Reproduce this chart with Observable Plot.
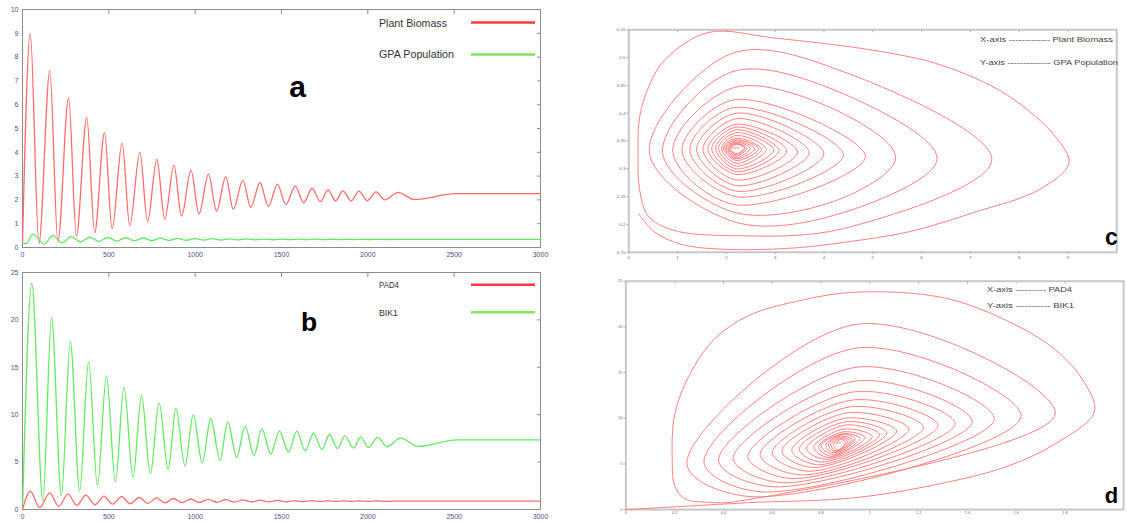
<!DOCTYPE html>
<html><head><meta charset="utf-8">
<script src="https://cdn.jsdelivr.net/npm/d3@7"></script>
<script src="https://cdn.jsdelivr.net/npm/@observablehq/plot@0.6"></script>
<style>
body{margin:0;background:#fff;overflow:hidden;}
#root{position:relative;width:1127px;height:522px;overflow:hidden;background:#fff;}
.p{position:absolute;}
#overlay{position:absolute;left:0;top:0;}
</style></head><body><div id="root"></div>
<script>
// ---------- Panel a: time series ----------
const timeTicks = [0, 500, 1000, 1500, 2000, 2500, 3000];
const aYTicks = [0,1,2,3,4,5,6,7,8,9,10];
const plantT = [0,45,95,158,205,267,312,372,418,475,519,577,621,680,724,778,824,877,921,976,1022,1077,1124,1177,1221,1276,1322,1375,1424,1476,1525,1580,1629,1677,1726,1770,1813,1855,1904,1948,1997,2047,2099,2175,2268,2510,3000];
const plantV = [0.2,9.0,0.17,7.42,0.24,6.3,0.49,5.46,0.63,4.83,0.78,4.4,0.92,4.0,1.08,3.7,1.18,3.46,1.32,3.24,1.41,3.08,1.53,2.97,1.6,2.82,1.68,2.72,1.72,2.66,1.81,2.58,1.88,2.49,1.93,2.42,1.96,2.38,1.96,2.37,1.97,2.34,2.0,2.32,2.02,2.26,2.26];
const gpaT = [0,20,60,125,176,230,283,336,389,442,495,546,598,648,699,750,800,849,898,948,999,1049,1099,1150,1202,1250,1299,1349,1399,1450,1502,1545,1600,1645,1695,1742,1788,1830,1872,1920,1965,2012,2062,2115,2200,3000];
const gpaV = [0.2,0.16,0.56,0.15,0.5,0.2,0.46,0.23,0.44,0.25,0.42,0.27,0.41,0.28,0.40,0.29,0.39,0.30,0.38,0.305,0.375,0.31,0.37,0.315,0.365,0.32,0.36,0.32,0.355,0.325,0.352,0.327,0.35,0.33,0.348,0.332,0.346,0.334,0.345,0.335,0.344,0.336,0.343,0.337,0.34,0.34];

// ---------- Panel b: time series ----------
const bYTicks = [0,5,10,15,20,25];
const pad4T = [0,45,100,157,210,263,315,366,420,472,522,573,625,675,726,776,826,873,924,974,1025,1076,1127,1177,1227,1276,1326,1376,1427,1477,1528,1579,1628,1675,1722,1770,1815,1860,1905,1950,2000,2050,2110,2180,2290,3000];
const pad4V = [0,1.93,0.2,1.76,0.33,1.62,0.43,1.51,0.5,1.42,0.56,1.35,0.61,1.28,0.65,1.22,0.69,1.16,0.72,1.11,0.74,1.07,0.76,1.04,0.78,1.01,0.8,0.98,0.81,0.96,0.82,0.94,0.83,0.93,0.84,0.92,0.85,0.91,0.855,0.9,0.86,0.9,0.865,0.89,0.88,0.88];
const bik1T = [0,54,118,168,225,277,331,383,434,486,538,588,640,689,741,791,844,888,941,989,1041,1090,1144,1188,1241,1289,1341,1386,1438,1488,1540,1589,1637,1686,1734,1778,1825,1866,1918,1957,2005,2057,2112,2189,2292,2518,3000];
const bik1V = [0,23.84,0.88,20.3,1.44,17.7,1.95,15.6,2.5,14.1,2.95,12.9,3.4,12.0,3.8,11.25,4.2,10.6,4.6,10.0,4.9,9.6,5.2,9.25,5.5,8.8,5.7,8.5,5.85,8.3,6.05,8.26,6.22,8.05,6.33,7.91,6.43,7.77,6.47,7.66,6.54,7.6,6.61,7.52,6.65,7.35,7.35];

// ---------- Panel c: phase portrait (Plant Biomass vs GPA Population) ----------
const cXTicks = [0,1,2,3,4,5,6,7,8,9];
const cYTicks = [0.15,0.2,0.25,0.3,0.35,0.4,0.45,0.5,0.55];
const cLoop1X = [0.2,0.52,1.09,2.09,3.42,4.42,5.75,7.09,8.42,9.02,8.75,7.75,6.42,5.09,3.0,1.62,0.75,0.42,0.22,0.19,0.22,0.4,0.9];
const cLoop1Y = [0.22,0.187,0.164,0.155,0.158,0.168,0.187,0.222,0.263,0.31,0.357,0.433,0.486,0.512,0.535,0.545,0.497,0.45,0.392,0.322,0.263,0.215,0.19];
const cBx = [2.1,2.15,2.15,2.15,2.2,2.2,2.2,2.2,2.2,2.2,2.2,2.2,2.2,2.2,2.2,2.2,2.2,2.2,2.2];
const cBy = [0.18,0.205,0.222,0.236,0.25,0.26,0.27,0.28,0.29,0.295,0.30,0.305,0.31,0.315,0.318,0.32,0.323,0.325,0.327];
const cLowX = [4.42,4.42,4.42];   // lower edge of loops 2-4 read at x = 4.42
const cLowY = [0.193,0.222,0.249];
const cRx = [7.44,6.32,5.47,4.85,4.4,4.0,3.7,3.46,3.24,3.08,2.97,2.82,2.72,2.66,2.58,2.49,2.42,2.38,2.37];
const cRy = [0.316,0.318,0.32,0.322,0.325,0.327,0.329,0.33,0.332,0.333,0.334,0.335,0.335,0.336,0.336,0.337,0.337,0.337,0.338];
const cUpX = [4.42,4.42,4.42];    // upper edge of loops 2-4 read at x = 4.42
const cUpY = [0.474,0.434,0.398];
const cTx = [2.1,2.1,2.15,2.15,2.15,2.2,2.2,2.2,2.2,2.2,2.2,2.2,2.2,2.2,2.2,2.2,2.2,2.2,2.2];
const cTy = [0.507,0.474,0.446,0.424,0.41,0.40,0.39,0.38,0.375,0.37,0.365,0.36,0.355,0.352,0.35,0.348,0.346,0.345,0.344];
const cLx = [0.42,0.69,0.9,1.09,1.25,1.39,1.52,1.62,1.7,1.78,1.84,1.9,1.94,1.97,2.0,2.03,2.05,2.07,2.09];
const cLy = [0.33,0.33,0.332,0.333,0.334,0.335,0.335,0.336,0.336,0.337,0.337,0.337,0.338,0.338,0.338,0.338,0.338,0.338,0.338];
const cEnd = [2.25, 0.338];

// ---------- Panel d: phase portrait (PAD4 vs BIK1) ----------
const dXTicks = [0,0.2,0.4,0.6,0.8,1,1.2,1.4,1.6,1.8];
const dYTicks = [0,5,10,15,20,25];
const dLoop1X = [0,0.2,0.5,0.94,1.3,1.56,1.76,1.92,1.88,1.76,1.56,1.3,0.94,0.7,0.5,0.36,0.26,0.2,0.19,0.2,0.24,0.34];
const dLoop1Y = [0,0.3,0.75,1.3,2.9,4.7,7.2,10.7,13.9,17.5,20.7,23.2,23.8,22.8,21.2,18.6,14.7,10.4,5.5,2.6,1.2,0.8];
const dBx = [0.45,0.5,0.55,0.6,0.64,0.68,0.72,0.75,0.77,0.79,0.8,0.82,0.83,0.84,0.85,0.85,0.86,0.86,0.87];
const dBy = [0.88,1.44,1.95,2.5,2.95,3.4,3.8,4.2,4.6,4.9,5.2,5.5,5.7,5.85,6.05,6.22,6.33,6.43,6.5];
const dRx = [1.76,1.62,1.51,1.42,1.35,1.28,1.22,1.16,1.11,1.07,1.04,1.01,0.98,0.96,0.94,0.93,0.92,0.91,0.9];
const dRy = [10.5,10.2,9.9,9.6,9.4,9.2,9.0,8.8,8.6,8.4,8.2,8.0,7.9,7.8,7.7,7.6,7.5,7.45,7.4];
const dTx = [0.95,0.95,0.95,0.95,0.94,0.93,0.92,0.91,0.9,0.9,0.9,0.89,0.89,0.89,0.89,0.88,0.88,0.88,0.88];
const dTy = [20.3,17.7,15.6,14.1,12.9,12.0,11.25,10.6,10.0,9.6,9.25,8.8,8.5,8.3,8.26,8.05,7.91,7.77,7.66];
const dLx = [0.25,0.32,0.38,0.44,0.5,0.55,0.6,0.64,0.68,0.71,0.74,0.77,0.79,0.8,0.82,0.83,0.84,0.85,0.86];
const dLy = [5.0,5.2,5.4,5.6,5.8,6.0,6.2,6.4,6.5,6.6,6.7,6.8,6.9,7.0,7.05,7.1,7.15,7.2,7.25];
const dEnd = [0.88, 7.35];

// ---------- helpers ----------
const zip = (T, V) => T.map((t, i) => ({t, v: V[i]}));
function spiral(l1x, l1y, Bx, By, Rx, Ry, Tx, Ty, Lx, Ly, end, lowX = [], lowY = [], upX = [], upY = []) {
  const pts = l1x.map((x, i) => ({x, y: l1y[i]}));
  Bx.forEach((_, k) => {
    pts.push({x: Bx[k], y: By[k]});
    if (k < lowX.length) pts.push({x: lowX[k], y: lowY[k]});
    pts.push({x: Rx[k], y: Ry[k]});
    if (k < upX.length) pts.push({x: upX[k], y: upY[k]});
    pts.push({x: Tx[k], y: Ty[k]}, {x: Lx[k], y: Ly[k]});
  });
  pts.push({x: end[0], y: end[1]});
  return pts;
}
const RED = "#ff6a6a", GREEN = "#5fea5f";
const font = "'Liberation Sans', Arial, sans-serif";

function tsPlot({series, yDomain, yTicks, height, marginTop, marginBottom}) {
  return Plot.plot({
    width: 556, height, marginLeft: 22, marginRight: 16, marginTop, marginBottom,
    style: {fontFamily: font, fontSize: "7px", color: "#4d4d88", background: "transparent"},
    x: {domain: [0, 3000]},
    y: {domain: yDomain},
    marks: [
      Plot.axisX(timeTicks, {anchor: "bottom", tickSize: 0, tickPadding: 5, label: null, tickFormat: d => String(d)}),
      Plot.axisX(timeTicks, {anchor: "top", tickSize: -4, tickFormat: () => "", label: null, stroke: "#8a8a8a"}),
      Plot.axisY(yTicks, {anchor: "left", tickSize: 0, tickPadding: 4, label: null, tickFormat: d => String(d)}),
      Plot.axisY(yTicks, {anchor: "right", tickSize: -4, tickFormat: () => "", label: null, stroke: "#8a8a8a"}),
      Plot.frame({stroke: "#8a8a8a"}),
      ...series.map(s => Plot.line(s.data, {x: "t", y: "v", stroke: s.color, strokeWidth: 1.3, curve: "monotone-x"}))
    ]
  });
}

function phasePlot({data, xDomain, yDomain, xTicks, yTicks, width, height, marginLeft, marginRight, marginTop, marginBottom, fmt, fontSize = "4.5px", tickSize = 2, tickPadding = 1.5}) {
  return Plot.plot({
    width, height, marginLeft, marginRight, marginTop, marginBottom,
    style: {fontFamily: font, fontSize, color: "#666", background: "transparent"},
    x: {domain: xDomain},
    y: {domain: yDomain},
    marks: [
      Plot.frame({stroke: "#c6c6c6", strokeWidth: 2}),
      Plot.axisX(xTicks, {anchor: "bottom", tickSize, tickPadding, label: null, stroke: "#aaa", tickFormat: fmt.x}),
      Plot.axisX(xTicks, {anchor: "top", tickSize: -2, tickFormat: () => "", label: null, stroke: "#aaa"}),
      Plot.axisY(yTicks, {anchor: "left", tickSize: 2, tickPadding: 1.5, label: null, stroke: "#aaa", tickFormat: fmt.y}),
      Plot.line(data, {x: "x", y: "y", stroke: "#ff7b7b", strokeWidth: 1, curve: "catmull-rom"})
    ]
  });
}

const root = document.getElementById("root");
function place(el, left, top) {
  const d = document.createElement("div");
  d.className = "p"; d.style.left = left + "px"; d.style.top = top + "px";
  d.appendChild(el); root.appendChild(d);
}

place(tsPlot({
  series: [{data: zip(plantT, plantV), color: RED}, {data: zip(gpaT, gpaV), color: GREEN}],
  yDomain: [0, 10], yTicks: aYTicks, height: 262, marginTop: 9, marginBottom: 15
}), 0, 0);

place(tsPlot({
  series: [{data: zip(bik1T, bik1V), color: GREEN}, {data: zip(pad4T, pad4V), color: RED}],
  yDomain: [0, 25], yTicks: bYTicks, height: 260, marginTop: 10, marginBottom: 13
}), 0, 262);

const trim = d => String(+d.toFixed(2));
place(phasePlot({
  data: spiral(cLoop1X, cLoop1Y, cBx, cBy, cRx, cRy, cTx, cTy, cLx, cLy, cEnd, cLowX, cLowY, cUpX, cUpY),
  xDomain: [0, 10], yDomain: [0.15, 0.55], xTicks: cXTicks, yTicks: cYTicks,
  width: 540, height: 268, marginLeft: 29, marginRight: 11, marginTop: 30, marginBottom: 10,
  fmt: {x: trim, y: trim}
}), 600, 0);

place(phasePlot({
  data: spiral(dLoop1X, dLoop1Y, dBx, dBy, dRx, dRy, dTx, dTy, dLx, dLy, dEnd),
  xDomain: [0, 2.04], yDomain: [0, 25], xTicks: dXTicks, yTicks: dYTicks,
  width: 540, height: 252, marginLeft: 26, marginRight: 4, marginTop: 11, marginBottom: 7,
  fmt: {x: trim, y: trim}, fontSize: "4px", tickSize: 1, tickPadding: 0.5
}), 600, 270);

// ---------- overlay annotations ----------
const svg = d3.select(root).append("svg").attr("id", "overlay")
  .attr("width", 1127).attr("height", 522).style("font-family", font);
function txt(s, x, y, size, opts = {}) {
  const t = svg.append("text").attr("x", x).attr("y", y).attr("font-size", size)
    .attr("fill", opts.fill || "#333").text(s);
  if (opts.bold) t.attr("font-weight", "bold");
  if (opts.anchor) t.attr("text-anchor", opts.anchor);
  if (opts.len) t.attr("textLength", opts.len).attr("lengthAdjust", "spacingAndGlyphs");
}
function legLine(x1, x2, y, color) {
  svg.append("line").attr("x1", x1).attr("x2", x2).attr("y1", y).attr("y2", y)
    .attr("stroke", color).attr("stroke-width", 2.6);
}
// legends a
txt("Plant Biomass", 379, 26.5, 10.5, {len: 68});
legLine(471, 535, 22.5, "#ff3a3a");
txt("GPA Population", 379, 58, 10.5, {len: 75});
legLine(471, 535, 54.5, "#84e25e");
// legends b
txt("PAD4", 379, 288, 9.5, {len: 20});
legLine(471, 535, 284.7, "#ff3a3a");
txt("BIK1", 379, 316, 9.5, {len: 19});
legLine(471, 535, 312.3, "#84e25e");
// panel letters
txt("a", 297.5, 97, 30, {bold: true, anchor: "middle", fill: "#000"});
txt("b", 309, 331, 26.5, {bold: true, anchor: "middle", fill: "#000"});
txt("c", 1111.5, 245, 23, {bold: true, anchor: "middle", fill: "#000"});
txt("d", 1111.5, 503, 22, {bold: true, anchor: "middle", fill: "#000"});
// phase annotations
txt("X-axis ------------- Plant Biomass", 980, 42, 7.5, {len: 133, fill: "#444"});
txt("Y-axis -------------- GPA Population", 980, 65, 7.5, {len: 138, fill: "#444"});
txt("X-axis ---------- PAD4", 987, 291.5, 7.5, {len: 85, fill: "#444"});
txt("Y-axis ----------- BIK1", 987, 307.5, 7.5, {len: 87, fill: "#444"});
</script>
</body></html>
